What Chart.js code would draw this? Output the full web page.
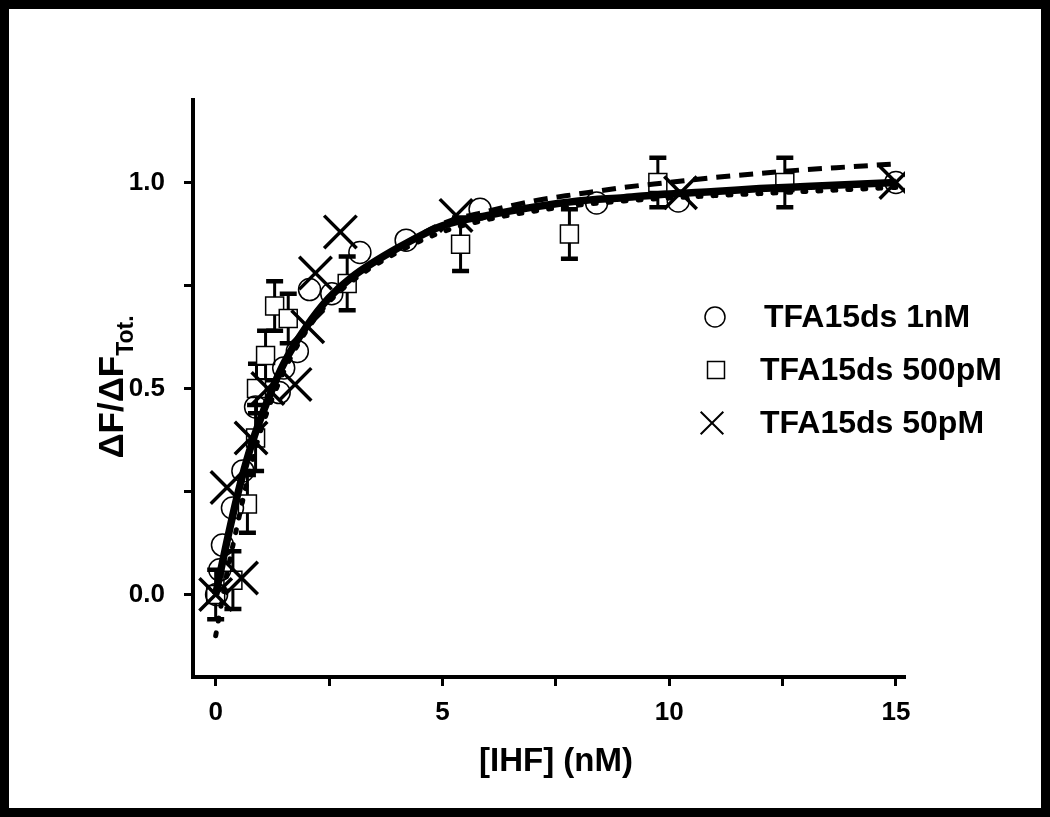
<!DOCTYPE html>
<html>
<head>
<meta charset="utf-8">
<script src="https://cdn.jsdelivr.net/npm/chart.js@4.4.1/dist/chart.umd.min.js"></script>
<style>
  html, body { margin: 0; padding: 0; background: #fff; }
  #frame {
    position: absolute; left: 0; top: 0;
    width: 1050px; height: 817px;
    box-sizing: border-box; border: 9px solid #000; background: #fff;
  }
  canvas { display: block; }
</style>
</head>
<body>
<div id="frame"><canvas id="bindingChart" width="1032" height="799"></canvas></div>
<script>
// TFA15ds 1nM (circles)
const circleX = [0.02, 0.09, 0.15, 0.37, 0.6, 0.88, 1.4, 1.5, 1.8, 2.07, 2.56, 3.18, 4.2, 5.83, 8.4, 10.2, 15.0];
const circleY = [0.0, 0.06, 0.12, 0.21, 0.30, 0.455, 0.49, 0.55, 0.59, 0.74, 0.73, 0.83, 0.86, 0.935, 0.95, 0.955, 1.0];

// TFA15ds 500pM (squares, with error bars)
const squareX = [0.0, 0.38, 0.7, 0.88, 0.9, 1.1, 1.3, 1.6, 2.9, 5.4, 7.8, 9.75, 12.55];
const squareY = [0.0, 0.035, 0.22, 0.38, 0.50, 0.58, 0.70, 0.67, 0.755, 0.85, 0.875, 1.0, 1.0];
const squareErr = [0.06, 0.07, 0.07, 0.08, 0.06, 0.06, 0.06, 0.06, 0.065, 0.065, 0.06, 0.06, 0.06];

// TFA15ds 50pM (crosses)
const crossX = [0.0, 0.25, 0.57, 0.78, 1.15, 1.75, 2.03, 2.2, 2.75, 5.3, 10.25, 15.0];
const crossY = [0.0, 0.26, 0.04, 0.38, 0.50, 0.51, 0.65, 0.78, 0.88, 0.92, 0.975, 1.0];

// fitted curves
const fitX = [0, 0.25, 0.5, 0.75, 1, 1.5, 2, 2.5, 3, 4, 5, 6, 7, 8, 9, 10, 11, 12, 13, 14, 15];
const fitSolid = [0.0, 0.13, 0.25, 0.35, 0.43, 0.56, 0.65, 0.72, 0.77, 0.84, 0.895, 0.92, 0.94, 0.955, 0.963, 0.972, 0.978, 0.985, 0.99, 0.995, 1.0];
const fitDashed = [0.0, 0.13, 0.25, 0.35, 0.43, 0.56, 0.65, 0.72, 0.77, 0.84, 0.9, 0.93, 0.955, 0.972, 0.988, 1.0, 1.012, 1.022, 1.031, 1.038, 1.045];
const fitDotted = [-0.1, 0.05, 0.18, 0.30, 0.40, 0.54, 0.64, 0.71, 0.76, 0.83, 0.88, 0.91, 0.93, 0.945, 0.955, 0.962, 0.968, 0.973, 0.978, 0.983, 0.988];

const xTicks = [0, 2.5, 5, 7.5, 10, 12.5, 15];
const xLabels = [0, 5, 10, 15];
const yTicks = [0, 0.25, 0.5, 0.75, 1.0];
const yLabels = [0, 0.5, 1.0];

const FONT = "'Liberation Sans', Arial, sans-serif";
const BORDER = 9;

const toPoints = (xs, ys) => xs.map((x, i) => ({ x: x, y: ys[i] }));

Chart.defaults.color = "#000";
Chart.defaults.font.family = FONT;

const errorBars = {
  id: "errorBars",
  beforeDatasetsDraw(chart) {
    const { ctx, scales } = chart;
    ctx.save();
    ctx.strokeStyle = "#000";
    squareX.forEach((xv, i) => {
      const px = scales.x.getPixelForValue(xv);
      const top = scales.y.getPixelForValue(squareY[i] + squareErr[i]);
      const bot = scales.y.getPixelForValue(squareY[i] - squareErr[i]);
      ctx.lineWidth = 3;
      ctx.beginPath();
      ctx.moveTo(px, top);
      ctx.lineTo(px, bot);
      ctx.stroke();
      ctx.lineWidth = 4.5;
      ctx.beginPath();
      ctx.moveTo(px - 8.5, top);
      ctx.lineTo(px + 8.5, top);
      ctx.moveTo(px - 8.5, bot);
      ctx.lineTo(px + 8.5, bot);
      ctx.stroke();
    });
    ctx.restore();
  },
};

const titlesAndLegend = {
  id: "titlesAndLegend",
  afterDraw(chart) {
    const ctx = chart.ctx;
    ctx.save();
    ctx.fillStyle = "#000";

    // x title
    ctx.font = "bold 33px " + FONT;
    ctx.textAlign = "center";
    ctx.textBaseline = "middle";
    ctx.fillText("[IHF] (nM)", 556 - BORDER, 762 - BORDER);

    // y title with subscript
    ctx.translate(113 - BORDER, 387 - BORDER);
    ctx.rotate(-Math.PI / 2);
    const main = "\u0394F/\u0394F";
    const sub = "Tot.";
    ctx.font = "bold 35px " + FONT;
    const wMain = ctx.measureText(main).width;
    ctx.font = "bold 23px " + FONT;
    const wSub = ctx.measureText(sub).width;
    const start = -(wMain + wSub) / 2;
    ctx.textAlign = "left";
    ctx.font = "bold 35px " + FONT;
    ctx.fillText(main, start, 0);
    ctx.font = "bold 23px " + FONT;
    ctx.fillText(sub, start + wMain, 14);
    ctx.setTransform(1, 0, 0, 1, 0, 0);

    // legend
    const rows = [
      { ds: chart.data.datasets[0], px: 715, py: 317, tx: 764, r: 10 },
      { ds: chart.data.datasets[1], px: 716, py: 370, tx: 760, r: 12 },
      { ds: chart.data.datasets[2], px: 712, py: 423, tx: 760, r: 16 },
    ];
    ctx.font = "bold 32px " + FONT;
    ctx.textAlign = "left";
    ctx.textBaseline = "middle";
    rows.forEach((row) => {
      ctx.strokeStyle = "#000";
      ctx.fillStyle = "#fff";
      ctx.lineWidth = row.ds.pointStyle === "crossRot" ? 2 : 1.5;
      Chart.helpers.drawPoint(ctx, { pointStyle: row.ds.pointStyle, radius: row.r, borderWidth: ctx.lineWidth, rotation: 0 }, row.px - BORDER, row.py - BORDER);
      ctx.fillStyle = "#000";
      ctx.fillText(row.ds.label, row.tx - BORDER, row.py - BORDER + 1);
    });
    ctx.restore();
  },
};

new Chart(document.getElementById("bindingChart"), {
  type: "scatter",
  data: {
    datasets: [
      {
        label: "TFA15ds 1nM",
        data: toPoints(circleX, circleY),
        pointStyle: "circle",
        pointRadius: 11,
        borderWidth: 1.5,
        borderColor: "#000",
        backgroundColor: "rgba(0,0,0,0)",
        order: 4,
      },
      {
        label: "TFA15ds 500pM",
        data: toPoints(squareX, squareY),
        pointStyle: "rect",
        pointRadius: 12.7,
        borderWidth: 1.5,
        borderColor: "#000",
        backgroundColor: "#fff",
        order: 5,
      },
      {
        label: "TFA15ds 50pM",
        data: toPoints(crossX, crossY),
        pointStyle: "crossRot",
        pointRadius: 23,
        borderWidth: 3.5,
        borderColor: "#000",
        order: 3,
      },
      {
        label: "fit dotted",
        data: toPoints(fitX, fitDotted),
        showLine: true,
        pointRadius: 0,
        borderColor: "#000",
        borderWidth: 5,
        borderDash: [3, 12],
        borderCapStyle: "round",
        cubicInterpolationMode: "monotone",
        order: 2,
      },
      {
        label: "fit dashed",
        data: toPoints(fitX, fitDashed),
        showLine: true,
        pointRadius: 0,
        borderColor: "#000",
        borderWidth: 5,
        borderDash: [14, 9],
        cubicInterpolationMode: "monotone",
        order: 1,
      },
      {
        label: "fit solid",
        data: toPoints(fitX, fitSolid),
        showLine: true,
        pointRadius: 0,
        borderColor: "#000",
        borderWidth: 7.5,
        cubicInterpolationMode: "monotone",
        order: 0,
      },
    ],
  },
  options: {
    responsive: false,
    animation: false,
    devicePixelRatio: 1,
    layout: { padding: { top: 91, right: 136, left: 0, bottom: 0 } },
    plugins: {
      legend: { display: false },
      tooltip: { enabled: false },
    },
    scales: {
      x: {
        type: "linear",
        min: -0.5,
        max: 15.2,
        afterBuildTicks: (s) => { s.ticks = xTicks.map((v) => ({ value: v })); },
        afterFit: (s) => { s.height = 131; },
        grid: { drawOnChartArea: false, tickLength: 9, tickWidth: 3, tickColor: "#000" },
        border: { color: "#000", width: 4 },
        ticks: {
          padding: 11,
          maxRotation: 0,
          font: { size: 26, weight: "bold" },
          callback: (v) => (xLabels.includes(v) ? String(v) : ""),
        },
      },
      y: {
        type: "linear",
        min: -0.2,
        max: 1.2,
        afterBuildTicks: (s) => { s.ticks = yTicks.map((v) => ({ value: v })); },
        afterFit: (s) => { s.width = 184; },
        grid: { drawOnChartArea: false, tickLength: 9, tickWidth: 3, tickColor: "#000" },
        border: { color: "#000", width: 4 },
        ticks: {
          padding: 19,
          font: { size: 26, weight: "bold" },
          callback: (v) => (yLabels.includes(v) ? v.toFixed(1) : ""),
        },
      },
    },
  },
  plugins: [errorBars, titlesAndLegend],
});
</script>
</body>
</html>
